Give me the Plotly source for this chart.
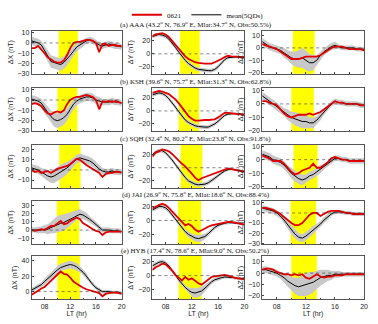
import plotly.graph_objects as go

# ---------------- data ----------------
LT = [6.0, 6.5, 7.0, 7.5, 8.0, 8.5, 9.0, 9.5, 10.0, 10.5, 11.0, 11.5, 12.0, 12.5, 13.0,
      13.5, 14.0, 14.5, 15.0, 15.5, 16.0, 16.5, 17.0, 17.5, 18.0, 18.5, 19.0, 19.5, 20.0]

stations = ["AAA", "KSH", "SQH", "JAI", "HYB"]
titles = [
    "(a) AAA (43.2<sup>o</sup> N, 76.9<sup>o</sup> E, Mlat:34.7<sup>o</sup> N, Obs:50.5%)",
    "(b) KSH (39.6<sup>o</sup> N, 75.7<sup>o</sup> E, Mlat:31.3<sup>o</sup> N, Obs:62.8%)",
    "(c) SQH (32.4<sup>o</sup> N, 80.2<sup>o</sup> E, Mlat:23.8<sup>o</sup> N, Obs:91.8%)",
    "(d) JAI (26.9<sup>o</sup> N, 75.8<sup>o</sup> E, Mlat:18.6<sup>o</sup> N, Obs:88.4%)",
    "(e) HYB (17.4<sup>o</sup> N, 78.6<sup>o</sup> E, Mlat:9.0<sup>o</sup> N, Obs:50.2%)",
]
eclipse_start = [10.2, 10.0, 10.3, 9.9, 10.0]
eclipse_end = [13.2, 13.1, 13.6, 13.4, 13.5]
x_ticks = [8, 12, 16, 20]
x_ticklabels = ["08", "12", "16", "20"]

# ---- AAA ----
AAA_X_0621 = [-5, -5, -3, -6, -10, -14, -16, -18, -19, -19, -17, -12, -5, 0, 1, 1, 2, 3, 3, 2, 0, -9, -1, -1, -3, -2, -2, -3, -3]
AAA_X_mean = [2, 1, 0, -2, -7, -12, -18, -19, -20, -21, -19, -16, -12, -8, -4, -2, 0, 2, 3, 2, 0, -2, -3, -2, -1, -2, -3, -3, -4]
AAA_X_sd = [4, 4, 4, 4, 5, 5, 6, 6, 6, 6, 6, 6, 5, 5, 4, 4, 3, 3, 3, 3, 3, 3, 3, 3, 3, 3, 3, 3, 3]
AAA_Y_0621 = [27, 30, 31, 32, 30, 26, 20, 14, 8, 1, -4, -8, -11, -13, -14, -15, -15, -15, -15, -13, -11, -8, -5, -3, -4, -4, -5, -5, -5]
AAA_Y_mean = [27, 29, 30, 29, 27, 23, 17, 10, 3, -4, -10, -15, -19, -22, -24, -25, -26, -26, -26, -24, -20, -14, -9, -6, -5, -5, -5, -6, -6]
AAA_Y_sd = [3, 3, 3, 3, 3, 3, 3, 3, 3, 3, 3, 3, 3, 3, 3, 3, 3, 3, 3, 3, 3, 3, 3, 2, 2, 2, 2, 2, 2]
AAA_Z_0621 = [3, 2, 1, 0, -1, -3, -5, -7, -9, -9, -9, -8, -7, -7, -7, -7, -6, -4, -2, 0, 1, 1, 1, 0, -1, -1, -1, -1, -2]
AAA_Z_mean = [5, 3, 1, 0, -1, -2, -4, -6, -8, -9, -9, -8, -10, -12, -12, -10, -6, -3, -1, 1, 2, 1, 0, 0, 0, 0, -1, -1, -1]
AAA_Z_sd = [3, 3, 3, 3, 3, 3, 4, 4, 5, 6, 7, 8, 8, 7, 6, 4, 3, 3, 3, 3, 3, 2, 2, 2, 2, 2, 2, 2, 2]

# ---- KSH ----
KSH_X_0621 = [-4, -3, -4, -6, -10, -13, -14, -12, -11, -12, -10, -4, 0, 2, 3, 3, 4, 5, 4, 3, 0, -9, -1, -2, -1, -2, -1, -2, -3]
KSH_X_mean = [1, 0, -1, -3, -8, -12, -16, -19, -20, -19, -17, -14, -9, -4, -1, 1, 2, 3, 3, 2, 0, -1, -2, -2, -2, -1, -2, -2, -3]
KSH_X_sd = [4, 4, 4, 4, 5, 5, 6, 7, 7, 7, 7, 6, 5, 5, 4, 4, 4, 4, 4, 4, 4, 4, 3, 3, 3, 3, 3, 3, 3]
KSH_Y_0621 = [28, 30, 31, 30, 28, 26, 22, 18, 12, 5, -2, -8, -12, -15, -15, -14, -14, -14, -14, -13, -10, -6, -3, -3, -4, -4, -5, -5, -6]
KSH_Y_mean = [25, 27, 28, 27, 24, 19, 13, 6, -1, -8, -14, -18, -21, -23, -24, -25, -25, -25, -23, -20, -16, -11, -7, -5, -4, -4, -5, -5, -6]
KSH_Y_sd = [3, 3, 3, 3, 3, 3, 3, 3, 3, 3, 3, 3, 3, 3, 3, 3, 3, 3, 3, 3, 3, 3, 2, 2, 2, 2, 2, 2, 2]
KSH_Z_0621 = [2, 2, 1, 0, -1, -4, -7, -9, -10, -9, -8, -8, -8, -7, -8, -7, -6, -4, -2, 0, 2, 1, 1, 0, 0, 0, 0, -1, -1]
KSH_Z_mean = [6, 4, 2, 0, -2, -4, -6, -8, -10, -11, -12, -13, -13, -14, -14, -12, -9, -6, -3, 0, 2, 1, 1, 0, 0, 0, 0, -1, -1]
KSH_Z_sd = [3, 3, 3, 3, 3, 3, 3, 4, 4, 5, 5, 5, 5, 4, 4, 3, 3, 2, 2, 2, 2, 2, 2, 2, 2, 2, 2, 2, 2]

# ---- SQH ----
SQH_X_0621 = [0, -2, -1, -3, -2, -1, -3, -1, 1, 2, 3, 4, 6, 9, 11, 10, 7, 5, 3, 1, -1, -3, -7, -4, -3, -3, -2, -2, -3]
SQH_X_mean = [2, 1, 0, -2, -4, -6, -7, -6, -4, -2, 0, 2, 5, 8, 11, 12, 11, 10, 9, 7, 4, 1, -1, -2, -2, -1, -2, -2, -2]
SQH_X_sd = [4, 4, 4, 4, 5, 5, 6, 7, 7, 7, 7, 6, 5, 4, 4, 4, 4, 4, 4, 4, 4, 3, 3, 3, 3, 3, 3, 3, 3]
SQH_Y_0621 = [17, 23, 25, 28, 27, 25, 21, 16, 10, 6, 2, -3, -9, -15, -19, -16, -14, -12, -10, -8, -6, -4, -2, -1, -2, -3, -4, -5, -6]
SQH_Y_mean = [20, 24, 26, 26, 23, 18, 12, 5, -2, -9, -15, -20, -23, -25, -26, -26, -25, -23, -20, -16, -12, -8, -5, -3, -2, -3, -4, -5, -6]
SQH_Y_sd = [3, 3, 3, 3, 3, 3, 3, 3, 3, 3, 3, 3, 3, 3, 3, 3, 3, 3, 3, 3, 3, 3, 2, 2, 2, 2, 2, 2, 2]
SQH_Z_0621 = [3, 2, 1, -1, -1, -1, -3, -6, -9, -11, -10, -8, -7, -6, -3, -6, -6, -4, -2, 1, 2, 1, 0, 0, -1, -1, -1, -1, -1]
SQH_Z_mean = [4, 3, 2, 0, -1, -2, -4, -7, -10, -12, -14, -15, -14, -12, -11, -9, -7, -5, -3, -1, 1, 1, 0, 0, -1, -1, -1, -1, -1]
SQH_Z_sd = [3, 3, 3, 3, 3, 3, 3, 3, 4, 4, 4, 4, 3, 3, 3, 3, 3, 2, 2, 2, 2, 2, 2, 2, 2, 2, 2, 2, 2]

# ---- JAI ----
JAI_X_0621 = [0, -1, 0, 1, 0, 3, 5, 5, 8, 11, 7, 8, 11, 13, 15, 13, 8, 6, 3, 1, -1, -2, -6, -3, -2, -2, -2, -2, -2]
JAI_X_mean = [0, 0, 0, 0, 1, 1, 3, 5, 7, 8, 9, 11, 13, 16, 18, 19, 18, 16, 13, 10, 7, 3, 0, 0, 0, -1, -1, -1, -2]
JAI_X_sd = [3, 3, 4, 4, 5, 6, 7, 9, 10, 10, 10, 9, 8, 7, 6, 6, 5, 5, 4, 4, 3, 3, 3, 3, 3, 3, 3, 3, 3]
JAI_Y_0621 = [17, 20, 22, 24, 22, 18, 13, 7, 2, -3, -7, -5, -8, -13, -16, -14, -11, -9, -7, -6, -5, -3, -2, -2, -2, -3, -4, -5, -6]
JAI_Y_mean = [15, 18, 20, 20, 18, 14, 8, 2, -5, -11, -16, -20, -23, -25, -26, -25, -23, -19, -14, -10, -7, -5, -4, -3, -3, -3, -4, -5, -6]
JAI_Y_sd = [3, 3, 3, 3, 3, 3, 3, 3, 3, 3, 3, 4, 4, 5, 5, 5, 4, 3, 3, 3, 3, 2, 2, 2, 2, 2, 2, 2, 2]
JAI_Z_0621 = [5, 5, 4, 3, 1, -1, -4, -7, -10, -12, -12, -10, -6, -2, 0, 0, -3, -1, 1, 2, 2, 2, 1, 0, 0, -1, -1, -1, -1]
JAI_Z_mean = [5, 4, 3, 2, 0, -3, -7, -12, -17, -21, -24, -25, -23, -20, -17, -14, -11, -7, -4, -1, 1, 1, 1, 0, 0, -1, -1, -1, -1]
JAI_Z_sd = [3, 3, 3, 3, 3, 3, 3, 4, 4, 4, 4, 4, 4, 4, 4, 3, 3, 3, 3, 2, 2, 2, 2, 2, 2, 2, 2, 2, 2]

# ---- HYB ----
HYB_X_0621 = [-4, -2, 1, 4, 6, 10, 14, 18, 23, 26, 23, 22, 18, 13, 10, 7, 5, 3, 2, 0, -1, -2, -6, -3, -2, -1, -1, -2, -3]
HYB_X_mean = [2, 4, 6, 9, 13, 17, 21, 25, 28, 31, 33, 34, 35, 34, 32, 29, 25, 20, 14, 9, 5, 2, 0, 0, 0, -1, -1, -1, -2]
HYB_X_sd = [3, 3, 3, 3, 4, 4, 4, 5, 5, 5, 5, 5, 5, 5, 5, 4, 4, 4, 3, 3, 3, 3, 2, 2, 2, 2, 2, 2, 2]
HYB_Y_0621 = [8, 12, 14, 17, 16, 12, 7, 1, -3, -7, -2, -6, -4, -8, -11, -13, -9, -5, -2, -1, 0, 0, 1, 0, -2, -3, -4, -4, -5]
HYB_Y_mean = [14, 17, 19, 20, 18, 14, 8, 1, -6, -12, -17, -21, -24, -25, -24, -22, -18, -13, -9, -6, -4, -3, -2, -2, -3, -3, -4, -5, -5]
HYB_Y_sd = [3, 3, 3, 3, 3, 3, 3, 3, 3, 3, 3, 4, 6, 7, 7, 6, 5, 4, 3, 3, 3, 2, 2, 2, 2, 2, 2, 2, 2]
HYB_Z_0621 = [3, 4, 4, 3, 1, 0, -1, -1, -2, -1, -2, -1, -4, -5, -3, -1, -3, -4, -3, -3, -2, -2, -2, -1, -1, -1, -1, -1, -1]
HYB_Z_mean = [3, 3, 2, 1, 0, -2, -4, -7, -9, -11, -12, -11, -10, -9, -8, -6, -4, -3, -2, -2, -1, -1, -1, -1, -1, -1, -1, -1, -1]
HYB_Z_sd = [3, 3, 3, 3, 3, 3, 4, 5, 6, 7, 8, 9, 10, 10, 9, 8, 7, 6, 5, 4, 3, 3, 2, 2, 2, 2, 2, 2, 2]

components = ["X", "Y", "Z"]
y_ranges = {
    ("AAA", "X"): [-30, 12], ("KSH", "X"): [-30, 12], ("SQH", "X"): [-18, 25],
    ("JAI", "X"): [-17, 35], ("HYB", "X"): [-10, 46],
    ("AAA", "Y"): [-31, 36], ("KSH", "Y"): [-31, 36], ("SQH", "Y"): [-31, 35],
    ("JAI", "Y"): [-34, 28], ("HYB", "Y"): [-34, 28],
    ("AAA", "Z"): [-21, 14], ("KSH", "Z"): [-20, 12], ("SQH", "Z"): [-21, 11],
    ("JAI", "Z"): [-31, 12], ("HYB", "Z"): [-23, 15],
}
y_dtick = {
    ("AAA", "X"): 10, ("KSH", "X"): 10, ("SQH", "X"): 10, ("JAI", "X"): 10, ("HYB", "X"): 20,
}

data = globals()

# ---------------- layout geometry ----------------
W, H = 378, 324
col_px = [(32, 123), (154, 247), (265, 368)]
row_top = [29, 87, 145, 202, 258]
row_h = 44

RED = "#e00000"
GRAY = "#c8c8c8"
YELLOW = "#ffff00"
TICKFONT = dict(size=7, family="Liberation Sans", color="#222")

fig = go.Figure()
# legend entries (drawn nowhere, only to set legend order)
fig.add_trace(go.Scatter(x=[None], y=[None], mode="lines", line=dict(width=2, color=RED), name="0621"))
fig.add_trace(go.Scatter(x=[None], y=[None], mode="lines", line=dict(width=1, color="black"), name="mean(5QDs)"))

layout_axes = {}
shapes = []
annotations = []

k = 0
for r, st in enumerate(stations):
    for c, comp in enumerate(components):
        k += 1
        xa = "x" if k == 1 else f"x{k}"
        ya = "y" if k == 1 else f"y{k}"
        xname = "xaxis" if k == 1 else f"xaxis{k}"
        yname = "yaxis" if k == 1 else f"yaxis{k}"
        red = data[f"{st}_{comp}_0621"]
        mean = data[f"{st}_{comp}_mean"]
        sd = data[f"{st}_{comp}_sd"]
        upper = [m + s for m, s in zip(mean, sd)]
        lower = [m - s for m, s in zip(mean, sd)]
        fig.add_trace(go.Scatter(x=LT, y=upper, xaxis=xa, yaxis=ya, mode="lines",
                                 line=dict(width=0, color=GRAY), showlegend=False, hoverinfo="skip"))
        fig.add_trace(go.Scatter(x=LT, y=lower, xaxis=xa, yaxis=ya, mode="lines",
                                 line=dict(width=0, color=GRAY), fill="tonexty", fillcolor=GRAY,
                                 showlegend=False, hoverinfo="skip"))
        fig.add_trace(go.Scatter(x=LT, y=mean, xaxis=xa, yaxis=ya, mode="lines",
                                 line=dict(width=1, color="black"), showlegend=False))
        fig.add_trace(go.Scatter(x=LT, y=red, xaxis=xa, yaxis=ya, mode="lines",
                                 line=dict(width=1.8, color=RED), showlegend=False))

        x0, x1 = col_px[c]
        y0 = row_top[r]
        y1 = y0 + row_h
        xax = dict(
            domain=[x0 / W, x1 / W], anchor=ya, range=[6, 20],
            tickvals=x_ticks, ticktext=x_ticklabels, showticklabels=(r == 4),
            ticks="inside", ticklen=2, tickcolor="#444", showgrid=False, zeroline=False,
            showline=True, mirror=True, linecolor="#555", linewidth=0.8,
            minor=dict(dtick=2, tick0=6, ticks="inside", ticklen=1.5, tickcolor="#444"),
            tickfont=TICKFONT,
        )
        if r == 4:
            xax["title"] = dict(text="LT (hr)", font=TICKFONT, standoff=2)
        layout_axes[xname] = xax
        yr = y_ranges[(st, comp)]
        layout_axes[yname] = dict(
            domain=[1 - y1 / H, 1 - y0 / H], anchor=xa, range=yr,
            dtick=y_dtick.get((st, comp), 10 if comp != "Y" else 20), tick0=0,
            ticks="inside", ticklen=2, tickcolor="#444", showgrid=False, zeroline=False,
            showline=True, mirror=True, linecolor="#555", linewidth=0.8,
            tickfont=TICKFONT,
            title=dict(text=f"\u0394{comp} (nT)", font=TICKFONT, standoff=3),
        )
        shapes.append(dict(type="rect", xref=xa, yref=f"{ya} domain", x0=eclipse_start[r], x1=eclipse_end[r],
                           y0=0, y1=1, fillcolor=YELLOW, line=dict(width=0), layer="below"))
        shapes.append(dict(type="line", xref=xa, yref=ya, x0=6, x1=20, y0=0, y1=0,
                           line=dict(color="#333", width=0.6, dash="dot"), layer="above"))
    annotations.append(dict(text=titles[r], xref="paper", yref="paper",
                            x=198 / W, y=1 - (row_top[r] - 6) / H, xanchor="center", yanchor="middle",
                            showarrow=False, font=dict(size=7, family="Liberation Serif", color="#111")))

fig.update_layout(
    width=W, height=H, margin=dict(l=0, r=0, t=0, b=0),
    paper_bgcolor="white", plot_bgcolor="white",
    shapes=shapes, annotations=annotations,
    legend=dict(orientation="h", x=200 / W, y=1 - 13 / H, xanchor="center", yanchor="middle",
                font=dict(size=7, family="Liberation Serif", color="#111"),
                itemwidth=30, traceorder="normal", bgcolor="rgba(0,0,0,0)"),
    **layout_axes,
)

fig.write_html("out.html")
